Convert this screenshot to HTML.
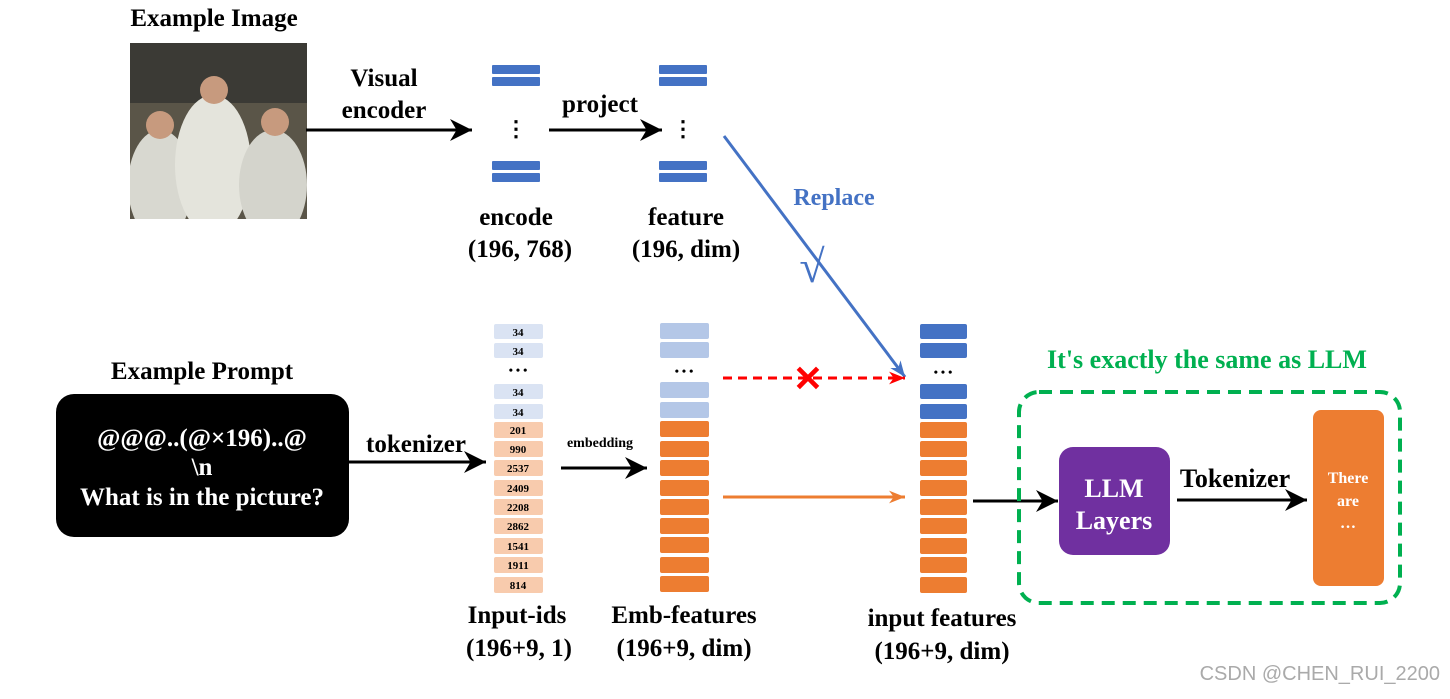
<!DOCTYPE html>
<html><head><meta charset="utf-8"><style>
body{margin:0;background:#fff;}
svg{display:block;font-family:"Liberation Serif",serif;font-weight:bold;}
</style></head><body>
<svg width="1450" height="699" viewBox="0 0 1450 699" xmlns="http://www.w3.org/2000/svg">
<defs>
<marker id="ak" viewBox="0 0 10 10" markerWidth="22" markerHeight="22" refX="10" refY="5" orient="auto" markerUnits="userSpaceOnUse"><path d="M0,0 L10,5 L0,10 L3,5 Z" fill="#000"/></marker>
<marker id="ablue" viewBox="0 0 10 10" markerWidth="16" markerHeight="16" refX="10" refY="5" orient="auto" markerUnits="userSpaceOnUse"><path d="M0,1 L10,5 L0,9 L3,5 Z" fill="#4472c4"/></marker>
<marker id="ared" viewBox="0 0 10 10" markerWidth="16" markerHeight="16" refX="10" refY="5" orient="auto" markerUnits="userSpaceOnUse"><path d="M0,1 L10,5 L0,9 L3,5 Z" fill="#ff0000"/></marker>
<marker id="aor" viewBox="0 0 10 10" markerWidth="16" markerHeight="16" refX="10" refY="5" orient="auto" markerUnits="userSpaceOnUse"><path d="M0,1 L10,5 L0,9 L3,5 Z" fill="#ed7d31"/></marker>
<clipPath id="ph"><rect x="130" y="43" width="177" height="176"/></clipPath>
</defs>

<!-- photo -->
<text x="214" y="26" font-size="25" text-anchor="middle">Example Image</text>
<g clip-path="url(#ph)">
<rect x="130" y="43" width="177" height="176" fill="#5a5548"/>
<rect x="130" y="43" width="177" height="60" fill="#3b3a35"/>
<ellipse cx="160" cy="185" rx="32" ry="55" fill="#d8d8d0"/>
<ellipse cx="213" cy="165" rx="38" ry="70" fill="#e4e4dc"/>
<ellipse cx="273" cy="185" rx="34" ry="55" fill="#d4d4cc"/>
<circle cx="160" cy="125" r="14" fill="#c79a7e"/>
<circle cx="214" cy="90" r="14" fill="#c79a7e"/>
<circle cx="275" cy="122" r="14" fill="#c79a7e"/>
</g>

<!-- visual encoder -->
<text x="384" y="86" font-size="25" text-anchor="middle">Visual</text>
<text x="384" y="118" font-size="25" text-anchor="middle">encoder</text>
<line x1="306" y1="130" x2="472" y2="130" stroke="#000" stroke-width="3" marker-end="url(#ak)"/>

<g fill="#4472c4">
<rect x="492" y="65" width="48" height="9" rx="1"/><rect x="492" y="77" width="48" height="9" rx="1"/>
<rect x="492" y="161" width="48" height="9" rx="1"/><rect x="492" y="173" width="48" height="9" rx="1"/>
<rect x="659" y="65" width="48" height="9" rx="1"/><rect x="659" y="77" width="48" height="9" rx="1"/>
<rect x="659" y="161" width="48" height="9" rx="1"/><rect x="659" y="173" width="48" height="9" rx="1"/>
</g>
<text x="516" y="136" font-size="22" text-anchor="middle">⋮</text>
<text x="683" y="136" font-size="22" text-anchor="middle">⋮</text>
<text x="600" y="112" font-size="25" text-anchor="middle">project</text>
<line x1="549" y1="130" x2="662" y2="130" stroke="#000" stroke-width="3" marker-end="url(#ak)"/>
<text x="516" y="225" font-size="25" text-anchor="middle">encode</text>
<text x="520" y="257" font-size="25" text-anchor="middle">(196, 768)</text>
<text x="686" y="225" font-size="25" text-anchor="middle">feature</text>
<text x="686" y="257" font-size="25" text-anchor="middle">(196, dim)</text>

<line x1="724" y1="136" x2="905" y2="377" stroke="#4472c4" stroke-width="3" marker-end="url(#ablue)"/>
<text x="834" y="205" font-size="24" text-anchor="middle" fill="#4472c4">Replace</text>
<text x="812" y="282" font-size="46" text-anchor="middle" fill="#4472c4">√</text>

<!-- prompt -->
<text x="202" y="379" font-size="25" text-anchor="middle">Example Prompt</text>
<rect x="56" y="394" width="293" height="143" rx="18" fill="#000"/>
<g fill="#fff" font-size="25" text-anchor="middle">
<text x="202" y="446">@@@..(@×196)..@</text>
<text x="202" y="475">\n</text>
<text x="202" y="505">What is in the picture?</text>
</g>
<text x="416" y="452" font-size="25" text-anchor="middle">tokenizer</text>
<line x1="349" y1="462" x2="486" y2="462" stroke="#000" stroke-width="3" marker-end="url(#ak)"/>

<g font-size="11" text-anchor="middle">
<rect x="494" y="324" width="49" height="15" rx="2" fill="#dae3f3"/><text x="518" y="336">34</text>
<rect x="494" y="343" width="49" height="15" rx="2" fill="#dae3f3"/><text x="518" y="355">34</text>
<text x="518" y="374" font-size="12">• • •</text>
<rect x="494" y="384" width="49" height="15" rx="2" fill="#dae3f3"/><text x="518" y="396">34</text>
<rect x="494" y="404" width="49" height="15" rx="2" fill="#dae3f3"/><text x="518" y="416">34</text>
<rect x="494" y="422" width="49" height="16" rx="2" fill="#f8cbad"/><text x="518" y="434">201</text>
<rect x="494" y="441" width="49" height="16" rx="2" fill="#f8cbad"/><text x="518" y="453">990</text>
<rect x="494" y="460" width="49" height="16" rx="2" fill="#f8cbad"/><text x="518" y="472">2537</text>
<rect x="494" y="480" width="49" height="16" rx="2" fill="#f8cbad"/><text x="518" y="492">2409</text>
<rect x="494" y="499" width="49" height="16" rx="2" fill="#f8cbad"/><text x="518" y="511">2208</text>
<rect x="494" y="518" width="49" height="16" rx="2" fill="#f8cbad"/><text x="518" y="530">2862</text>
<rect x="494" y="538" width="49" height="16" rx="2" fill="#f8cbad"/><text x="518" y="550">1541</text>
<rect x="494" y="557" width="49" height="16" rx="2" fill="#f8cbad"/><text x="518" y="569">1911</text>
<rect x="494" y="577" width="49" height="16" rx="2" fill="#f8cbad"/><text x="518" y="589">814</text>
</g>
<text x="600" y="447" font-size="14" text-anchor="middle">embedding</text>
<line x1="561" y1="468" x2="647" y2="468" stroke="#000" stroke-width="3" marker-end="url(#ak)"/>
<text x="517" y="623" font-size="25" text-anchor="middle">Input-ids</text>
<text x="519" y="656" font-size="25" text-anchor="middle">(196+9, 1)</text>

<g>
<rect x="660" y="323" width="49" height="16" rx="2" fill="#b4c7e7"/>
<rect x="660" y="342" width="49" height="16" rx="2" fill="#b4c7e7"/>
<text x="684" y="375" font-size="12" text-anchor="middle">• • •</text>
<rect x="660" y="382" width="49" height="16" rx="2" fill="#b4c7e7"/>
<rect x="660" y="402" width="49" height="16" rx="2" fill="#b4c7e7"/>
<g fill="#ed7d31">
<rect x="660" y="421" width="49" height="16" rx="2"/><rect x="660" y="441" width="49" height="16" rx="2"/>
<rect x="660" y="460" width="49" height="16" rx="2"/><rect x="660" y="480" width="49" height="16" rx="2"/>
<rect x="660" y="499" width="49" height="16" rx="2"/><rect x="660" y="518" width="49" height="16" rx="2"/>
<rect x="660" y="537" width="49" height="16" rx="2"/><rect x="660" y="557" width="49" height="16" rx="2"/>
<rect x="660" y="576" width="49" height="16" rx="2"/>
</g></g>
<text x="684" y="623" font-size="25" text-anchor="middle">Emb-features</text>
<text x="684" y="656" font-size="25" text-anchor="middle">(196+9, dim)</text>

<line x1="723" y1="378" x2="905" y2="378" stroke="#ff0000" stroke-width="3" stroke-dasharray="9,6" marker-end="url(#ared)"/>
<text x="808" y="391" font-size="36" text-anchor="middle" fill="#ff0000" font-family="Liberation Sans,sans-serif">✕</text>
<line x1="723" y1="497" x2="905" y2="497" stroke="#ed7d31" stroke-width="3" marker-end="url(#aor)"/>

<g>
<g fill="#4472c4">
<rect x="920" y="324" width="47" height="15" rx="2"/><rect x="920" y="343" width="47" height="15" rx="2"/>
<rect x="920" y="384" width="47" height="15" rx="2"/><rect x="920" y="404" width="47" height="15" rx="2"/>
</g>
<text x="943" y="376" font-size="12" text-anchor="middle">• • •</text>
<g fill="#ed7d31">
<rect x="920" y="422" width="47" height="16" rx="2"/><rect x="920" y="441" width="47" height="16" rx="2"/>
<rect x="920" y="460" width="47" height="16" rx="2"/><rect x="920" y="480" width="47" height="16" rx="2"/>
<rect x="920" y="499" width="47" height="16" rx="2"/><rect x="920" y="518" width="47" height="16" rx="2"/>
<rect x="920" y="538" width="47" height="16" rx="2"/><rect x="920" y="557" width="47" height="16" rx="2"/>
<rect x="920" y="577" width="47" height="16" rx="2"/>
</g></g>
<text x="942" y="626" font-size="25" text-anchor="middle">input features</text>
<text x="942" y="659" font-size="25" text-anchor="middle">(196+9, dim)</text>

<line x1="973" y1="501" x2="1058" y2="501" stroke="#000" stroke-width="3" marker-end="url(#ak)"/>

<text x="1207" y="368" font-size="26" text-anchor="middle" fill="#00b050">It's exactly the same as LLM</text>
<rect x="1019" y="392" width="381" height="211" rx="20" fill="none" stroke="#00b050" stroke-width="4" stroke-dasharray="13,8"/>
<rect x="1059" y="447" width="111" height="108" rx="14" fill="#7030a0"/>
<text x="1114" y="497" font-size="26" fill="#fff" text-anchor="middle">LLM</text>
<text x="1114" y="529" font-size="26" fill="#fff" text-anchor="middle">Layers</text>
<text x="1235" y="487" font-size="26" text-anchor="middle">Tokenizer</text>
<line x1="1177" y1="500" x2="1307" y2="500" stroke="#000" stroke-width="3" marker-end="url(#ak)"/>
<rect x="1313" y="410" width="71" height="176" rx="8" fill="#ed7d31"/>
<text x="1348" y="483" font-size="16" fill="#fff" text-anchor="middle">There</text>
<text x="1348" y="506" font-size="16" fill="#fff" text-anchor="middle">are</text>
<text x="1348" y="528" font-size="16" fill="#fff" text-anchor="middle">…</text>

<text x="1440" y="680" font-size="20" font-weight="normal" fill="#aaa" text-anchor="end" font-family="Liberation Sans,sans-serif">CSDN @CHEN_RUI_2200</text>
</svg>
</body></html>
